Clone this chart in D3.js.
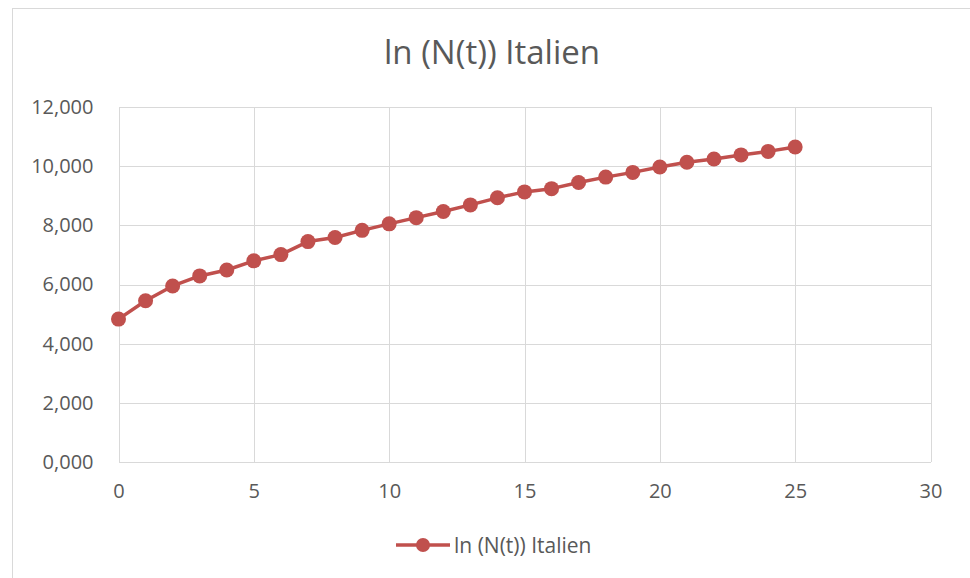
<!DOCTYPE html>
<html><head><meta charset="utf-8">
<script src="https://cdn.jsdelivr.net/npm/d3@7"></script>
<style>body{margin:0;background:#fff}svg text{font-family:"Open Sans","Liberation Sans",sans-serif}</style>
</head><body>
<svg id="c" width="970" height="578"></svg>
<script>
const title = "ln (N(t)) Italien";
const seriesName = "ln (N(t)) Italien";
const days = [0,1,2,3,4,5,6,7,8,9,10,11,12,13,14,15,16,17,18,19,20,21,22,23,24,25];
const lnValues = [4.83,5.45,5.95,6.29,6.49,6.80,7.01,7.45,7.59,7.83,8.05,8.26,8.47,8.69,8.93,9.13,9.24,9.45,9.63,9.79,9.97,10.13,10.24,10.38,10.50,10.65];
const xTicks = [0,5,10,15,20,25,30];
const yTicks = [0,2,4,6,8,10,12];

const svg = d3.select("#c");
const color = "#C0504D";
const margin = {left:118.5, right:930.5, top:107, bottom:462};
const x = d3.scaleLinear().domain([0,30]).range([margin.left, margin.right]);
const y = d3.scaleLinear().domain([0,12]).range([margin.bottom, margin.top]);

svg.append("rect").attr("x",12.5).attr("y",8.5).attr("width",980).attr("height",600)
  .attr("fill","#fff").attr("stroke","#d9d9d9").attr("stroke-width",1);

svg.append("text").attr("x",492).attr("y",64).attr("text-anchor","middle")
  .attr("font-size",33).attr("fill","#595959").text(title);

const gx = svg.append("g").attr("transform",`translate(0,${margin.bottom})`)
  .call(d3.axisBottom(x).tickValues(xTicks).tickSize(-(margin.bottom-margin.top)).tickPadding(22).tickFormat(d3.format("d")));
gx.select(".domain").remove();
gx.selectAll("line").attr("stroke","#d9d9d9").attr("shape-rendering","crispEdges");
gx.selectAll("text").attr("font-size",20).attr("fill","#595959").attr("font-family",null);

const gy = svg.append("g").attr("transform",`translate(${margin.left},0)`)
  .call(d3.axisLeft(y).tickValues(yTicks).tickSize(-(margin.right-margin.left)).tickPadding(25)
    .tickFormat(d => {const [i,f] = d3.format(".3f")(d).split("."); return i + "," + f;}));
gy.select(".domain").remove();
gy.selectAll("line").attr("stroke","#d9d9d9").attr("shape-rendering","crispEdges");
gy.selectAll("text").attr("font-size",20).attr("fill","#595959").attr("font-family",null);

const pts = days.map((d,i)=>[d, lnValues[i]]);
svg.append("path").datum(pts).attr("fill","none").attr("stroke",color).attr("stroke-width",3.5)
  .attr("stroke-linejoin","round")
  .attr("d", d3.line().x(d=>x(d[0])).y(d=>y(d[1])));
svg.append("g").selectAll("circle").data(pts).join("circle")
  .attr("cx",d=>x(d[0])).attr("cy",d=>y(d[1])).attr("r",7.5).attr("fill",color);

const lg = svg.append("g");
lg.append("line").attr("x1",396).attr("x2",450).attr("y1",545).attr("y2",545).attr("stroke",color).attr("stroke-width",3.5);
lg.append("circle").attr("cx",423).attr("cy",545).attr("r",7).attr("fill",color);
lg.append("text").attr("x",454).attr("y",553).attr("font-size",21).attr("fill","#595959").text(seriesName);
</script>
</body></html>
